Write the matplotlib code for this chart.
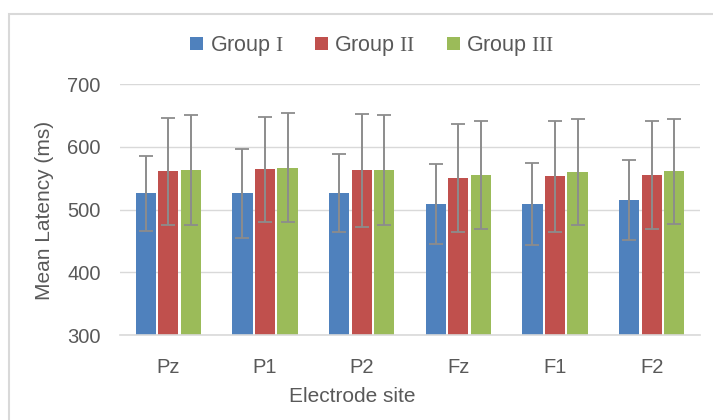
import matplotlib
matplotlib.use("Agg")
import matplotlib.pyplot as plt
import numpy as np
from matplotlib.patches import Rectangle

plt.rcParams['font.family'] = ['Liberation Sans', 'DejaVu Sans']
plt.rcParams['mathtext.fontset'] = 'custom'
plt.rcParams['mathtext.rm'] = 'Liberation Serif'

# data
sites = ["Pz", "P1", "P2", "Fz", "F1", "F2"]
groups = [r"Group $\mathrm{I}$", r"Group $\mathrm{II}$", r"Group $\mathrm{III}$"]
mean_g1 = [526, 526, 526, 509, 509, 515]
mean_g2 = [561, 564, 563, 551, 553, 555]
mean_g3 = [563, 567, 563, 555, 560, 561]
sd_g1 = [60, 71, 62, 63, 66, 64]
sd_g2 = [85, 84, 90, 86, 88, 86]
sd_g3 = [87, 87, 87, 86, 84, 84]

colors = ["#4f81bd", "#c0504d", "#9bbb59"]
txt = "#595959"
grid = "#d9d9d9"

fig = plt.figure(figsize=(7.13, 4.2), dpi=100)
ax = fig.add_axes([120/713, 1-335.3/420, 580/713, (335.3-84)/420])

# chart border
fig.patches.append(Rectangle((9/713, -0.1), 1.1, 1-14/420+0.1, transform=fig.transFigure,
                             fill=False, edgecolor=grid, linewidth=1.5))

x = np.arange(len(sites))
w = 0.21
gap = 0.024
means = [mean_g1, mean_g2, mean_g3]
sds = [sd_g1, sd_g2, sd_g3]
for i in range(3):
    pos = x + (i - 1) * (w + gap)
    ax.bar(pos, np.array(means[i]) - 300, w, bottom=300, color=colors[i], label=groups[i], zorder=2)
    eb = ax.errorbar(pos, means[i], yerr=sds[i], fmt='none', ecolor='#8c8c8c',
                     elinewidth=1.4, capsize=5, capthick=1.3, zorder=3)
    for cl in eb[1]:
        cl.set_color('#555555')

ax.set_ylim(300, 700)
ax.set_xlim(-0.5, len(sites) - 0.5)
ax.set_yticks([300, 400, 500, 600, 700])
ax.set_xticks(x)
ax.set_xticklabels(sites)
ax.yaxis.grid(True, color=grid, linewidth=1)
ax.set_axisbelow(True)
for s in ['top', 'right', 'left']:
    ax.spines[s].set_visible(False)
ax.spines['bottom'].set_color(grid)
ax.spines['bottom'].set_linewidth(1.2)
ax.tick_params(length=0, labelsize=14.5, colors=txt)
ax.tick_params(axis='y', pad=14)
ax.tick_params(axis='x', pad=16)

fig.text(45/713, 1-210/420, "Mean Latency (ms)", rotation=90, ha='center', va='center',
         fontsize=15, color=txt)
fig.text(352/713, 1-396/420, "Electrode site", ha='center', va='center', fontsize=15, color=txt)

leg = fig.legend(loc='center', bbox_to_anchor=(372/713, 1-46/420), ncol=3, frameon=False,
                 fontsize=15.5, handlelength=0.6, handleheight=0.6, handletextpad=0.3,
                 columnspacing=1.45)
for t in leg.get_texts():
    t.set_color(txt)

fig.savefig("out.png", dpi=100, facecolor='white')
